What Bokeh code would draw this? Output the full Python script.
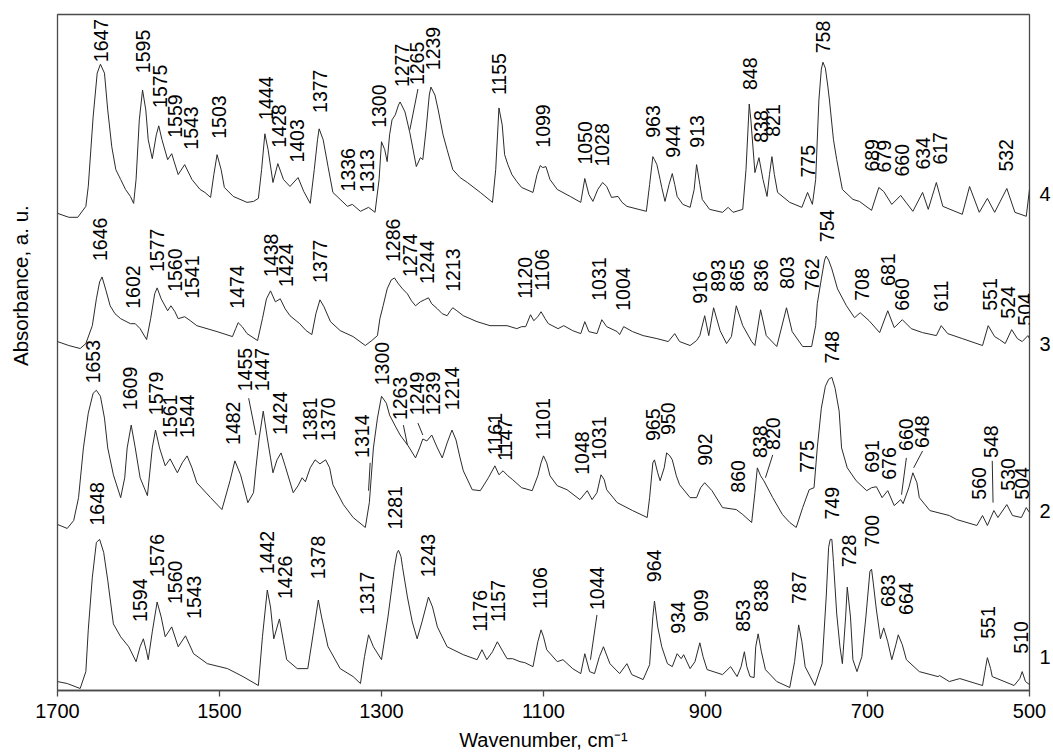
from math import pi
from bokeh.plotting import figure
from bokeh.layouts import row
from bokeh.models import Range1d, FixedTicker, ColumnDataSource, LinearAxis
from bokeh.core.properties import value
from bokeh.embed import file_html
from bokeh.resources import INLINE

# ---------------- data (wavenumber cm-1, absorbance a.u. incl. stacking offset) ----------------
spectrum_4 = [
    (1700, 4.80), (1686, 4.76), (1675, 4.76), (1665, 4.87), (1662, 5.07), (1656, 5.77), (1651, 6.21),
    (1647, 6.30), (1642, 6.21), (1638, 5.84), (1633, 5.47), (1628, 5.24), (1622, 5.14), (1616, 5.04),
    (1610, 4.97), (1606, 4.90), (1603, 5.14), (1599, 5.74), (1595, 6.04), (1591, 5.84), (1588, 5.54),
    (1583, 5.35), (1578, 5.59), (1575, 5.68), (1571, 5.54), (1564, 5.34), (1559, 5.40), (1556, 5.32),
    (1551, 5.19), (1543, 5.29), (1534, 5.14), (1524, 5.04), (1518, 5.01), (1511, 4.96), (1507, 5.19),
    (1503, 5.39), (1498, 5.24), (1494, 5.06), (1483, 4.97), (1466, 4.91), (1458, 4.92), (1452, 4.95),
    (1448, 5.24), (1444, 5.60), (1440, 5.44), (1434, 5.11), (1428, 5.30), (1421, 5.14), (1413, 5.07),
    (1403, 5.16), (1396, 5.02), (1388, 4.90), (1383, 5.24), (1379, 5.54), (1377, 5.65), (1372, 5.54),
    (1366, 5.27), (1360, 5.01), (1351, 4.94), (1342, 4.87), (1336, 4.89), (1326, 4.82), (1316, 4.86),
    (1308, 4.81), (1303, 5.14), (1300, 5.52), (1296, 5.44), (1293, 5.32), (1290, 5.59), (1287, 5.74),
    (1283, 5.79), (1279, 5.89), (1277, 5.92), (1271, 5.82), (1265, 5.61), (1257, 5.27), (1252, 5.36),
    (1249, 5.34), (1245, 5.64), (1241, 5.99), (1239, 6.07), (1234, 5.99), (1230, 5.84), (1224, 5.59),
    (1219, 5.44), (1212, 5.24), (1203, 5.16), (1194, 5.11), (1178, 5.01), (1163, 4.91), (1159, 5.24),
    (1155, 5.86), (1151, 5.69), (1148, 5.39), (1144, 5.29), (1139, 5.19), (1133, 5.12), (1127, 5.06),
    (1113, 5.01), (1108, 5.19), (1104, 5.28), (1101, 5.26), (1097, 5.27), (1092, 5.14), (1083, 5.04),
    (1067, 4.97), (1054, 4.91), (1049, 5.15), (1044, 4.99), (1039, 4.92), (1033, 5.04), (1027, 5.11),
    (1022, 5.07), (1016, 4.96), (1008, 4.97), (1003, 4.91), (997, 4.87), (973, 4.82), (969, 5.09),
    (965, 5.37), (963, 5.34), (960, 5.29), (956, 5.14), (954, 5.06), (950, 4.92), (945, 5.09),
    (941, 5.20), (938, 5.09), (935, 4.97), (928, 4.89), (919, 4.86), (914, 5.04), (911, 5.29),
    (907, 5.09), (904, 4.94), (895, 4.84), (879, 4.81), (872, 4.86), (866, 4.81), (854, 4.84),
    (850, 5.24), (846, 5.90), (844, 5.74), (839, 5.21), (834, 5.36), (829, 5.14), (824, 4.97),
    (821, 5.19), (818, 5.37), (815, 5.19), (811, 5.01), (796, 4.91), (781, 4.86), (774, 5.01),
    (768, 4.89), (764, 5.14), (760, 5.94), (757, 6.25), (755, 6.32), (752, 6.26), (749, 6.08),
    (747, 5.94), (742, 5.54), (738, 5.34), (731, 5.04), (718, 4.94), (710, 4.92), (695, 4.83),
    (686, 5.06), (680, 5.02), (670, 4.89), (659, 4.98), (644, 4.82), (632, 5.01), (625, 4.84),
    (615, 5.11), (607, 4.87), (583, 4.79), (574, 5.07), (562, 4.81), (552, 4.95), (543, 4.81),
    (528, 5.05), (518, 4.81), (504, 4.77), (500, 5.04),
]

spectrum_3 = [
    (1700, 3.51), (1686, 3.47), (1672, 3.44), (1665, 3.49), (1657, 3.67), (1652, 3.94), (1648, 4.11),
    (1645, 4.16), (1640, 4.02), (1635, 3.87), (1629, 3.79), (1622, 3.74), (1610, 3.69), (1604, 3.69),
    (1598, 3.64), (1590, 3.53), (1585, 3.74), (1580, 3.99), (1577, 4.05), (1572, 3.94), (1564, 3.82),
    (1560, 3.87), (1555, 3.81), (1551, 3.74), (1543, 3.76), (1536, 3.72), (1528, 3.67), (1503, 3.61),
    (1484, 3.56), (1480, 3.64), (1477, 3.70), (1472, 3.66), (1466, 3.59), (1453, 3.52), (1447, 3.74),
    (1442, 3.94), (1437, 4.02), (1431, 3.91), (1425, 3.94), (1419, 3.84), (1413, 3.77), (1401, 3.69),
    (1393, 3.62), (1386, 3.58), (1381, 3.79), (1376, 3.93), (1371, 3.86), (1363, 3.71), (1351, 3.62),
    (1335, 3.56), (1320, 3.47), (1312, 3.52), (1305, 3.57), (1302, 3.74), (1298, 3.87), (1293, 4.04),
    (1288, 4.13), (1284, 4.15), (1279, 4.09), (1274, 4.04), (1268, 3.99), (1263, 3.92), (1258, 3.87),
    (1252, 3.91), (1247, 3.93), (1242, 3.95), (1238, 3.89), (1231, 3.84), (1225, 3.79), (1219, 3.77),
    (1215, 3.82), (1212, 3.85), (1207, 3.82), (1199, 3.77), (1182, 3.71), (1166, 3.67), (1145, 3.67),
    (1133, 3.64), (1127, 3.66), (1122, 3.66), (1116, 3.78), (1112, 3.72), (1107, 3.76), (1103, 3.81),
    (1098, 3.74), (1094, 3.69), (1082, 3.64), (1075, 3.67), (1064, 3.62), (1054, 3.59), (1049, 3.71),
    (1044, 3.61), (1034, 3.59), (1028, 3.73), (1022, 3.66), (1009, 3.61), (1006, 3.58), (1001, 3.66),
    (990, 3.61), (977, 3.57), (960, 3.54), (946, 3.51), (938, 3.59), (932, 3.51), (919, 3.47),
    (911, 3.52), (907, 3.57), (901, 3.77), (896, 3.57), (890, 3.85), (882, 3.62), (874, 3.49),
    (868, 3.56), (862, 3.87), (854, 3.67), (843, 3.51), (839, 3.47), (832, 3.83), (825, 3.57),
    (812, 3.46), (800, 3.85), (793, 3.61), (780, 3.46), (769, 3.46), (764, 3.67), (762, 3.89),
    (757, 4.14), (753, 4.33), (751, 4.37), (748, 4.33), (744, 4.24), (737, 4.04), (726, 3.87),
    (716, 3.75), (709, 3.80), (698, 3.72), (685, 3.60), (675, 3.82), (667, 3.65), (657, 3.73),
    (646, 3.64), (632, 3.60), (615, 3.57), (609, 3.67), (601, 3.59), (583, 3.54), (558, 3.47),
    (551, 3.67), (543, 3.56), (537, 3.53), (530, 3.49), (522, 3.63), (515, 3.54), (509, 3.51),
    (502, 3.57), (500, 3.54),
]

spectrum_2 = [
    (1700, 1.67), (1688, 1.63), (1680, 1.71), (1674, 1.94), (1668, 2.44), (1662, 2.79), (1656, 2.99),
    (1652, 3.02), (1647, 2.96), (1642, 2.74), (1638, 2.44), (1631, 2.17), (1622, 1.94), (1617, 2.14),
    (1614, 2.44), (1609, 2.67), (1604, 2.44), (1598, 2.14), (1589, 1.96), (1583, 2.44), (1579, 2.62),
    (1574, 2.44), (1567, 2.26), (1561, 2.33), (1552, 2.19), (1546, 2.29), (1540, 2.36), (1534, 2.24),
    (1528, 2.09), (1511, 1.94), (1497, 1.82), (1487, 2.11), (1481, 2.31), (1474, 2.17), (1465, 1.89),
    (1458, 1.99), (1455, 2.24), (1451, 2.54), (1446, 2.81), (1441, 2.54), (1437, 2.34), (1434, 2.19),
    (1429, 2.32), (1424, 2.39), (1419, 2.26), (1409, 1.99), (1403, 2.06), (1398, 2.14), (1394, 2.10),
    (1388, 2.24), (1382, 2.32), (1376, 2.28), (1369, 2.32), (1364, 2.24), (1360, 2.07), (1347, 1.87),
    (1335, 1.74), (1320, 1.64), (1315, 1.89), (1310, 2.44), (1305, 2.74), (1300, 2.96), (1294, 2.89),
    (1290, 2.77), (1283, 2.66), (1277, 2.57), (1267, 2.46), (1258, 2.34), (1253, 2.44), (1249, 2.53),
    (1244, 2.51), (1238, 2.57), (1231, 2.44), (1225, 2.34), (1219, 2.49), (1213, 2.62), (1208, 2.52),
    (1203, 2.34), (1199, 2.21), (1188, 2.02), (1178, 2.01), (1168, 2.14), (1160, 2.26), (1155, 2.17),
    (1150, 2.21), (1144, 2.16), (1138, 2.12), (1127, 2.04), (1114, 2.01), (1107, 2.16), (1103, 2.29),
    (1100, 2.36), (1096, 2.29), (1092, 2.16), (1083, 2.06), (1071, 2.02), (1055, 1.92), (1046, 2.01),
    (1040, 1.92), (1034, 1.99), (1029, 2.17), (1025, 2.12), (1022, 2.02), (1009, 1.89), (990, 1.81),
    (972, 1.74), (969, 1.94), (965, 2.29), (963, 2.32), (959, 2.19), (956, 2.11), (951, 2.24),
    (948, 2.39), (944, 2.36), (941, 2.32), (936, 2.16), (932, 2.07), (919, 1.94), (911, 1.94),
    (906, 2.04), (901, 2.09), (892, 2.01), (879, 1.84), (862, 1.82), (854, 1.77), (843, 1.69),
    (839, 1.99), (836, 2.24), (832, 2.16), (828, 2.11), (817, 1.94), (805, 1.77), (796, 1.69),
    (788, 1.64), (780, 1.84), (772, 2.02), (766, 2.04), (762, 2.44), (757, 2.84), (752, 3.06),
    (748, 3.13), (744, 3.15), (740, 3.04), (735, 2.81), (732, 2.44), (725, 2.24), (714, 2.11),
    (701, 2.01), (695, 2.04), (689, 2.05), (682, 1.94), (675, 2.01), (667, 1.86), (659, 1.92),
    (656, 1.88), (649, 2.04), (644, 2.19), (639, 2.09), (636, 1.94), (623, 1.81), (599, 1.76),
    (590, 1.72), (565, 1.66), (558, 1.76), (552, 1.66), (544, 1.81), (539, 1.74), (528, 1.87),
    (521, 1.76), (510, 1.74), (504, 1.84), (500, 1.79),
]

spectrum_1 = [
    (1700, 0.09), (1688, 0.07), (1672, 0.02), (1665, 0.19), (1662, 0.61), (1657, 1.14), (1652, 1.49),
    (1648, 1.52), (1643, 1.39), (1638, 1.11), (1631, 0.67), (1622, 0.54), (1612, 0.44), (1603, 0.29),
    (1598, 0.44), (1594, 0.52), (1590, 0.39), (1588, 0.31), (1583, 0.59), (1577, 0.89), (1572, 0.74),
    (1567, 0.54), (1559, 0.64), (1551, 0.44), (1542, 0.55), (1532, 0.37), (1515, 0.27), (1490, 0.22),
    (1471, 0.14), (1452, 0.05), (1447, 0.54), (1441, 1.01), (1437, 0.84), (1433, 0.52), (1426, 0.72),
    (1421, 0.49), (1417, 0.31), (1404, 0.22), (1391, 0.22), (1383, 0.64), (1378, 0.91), (1374, 0.74),
    (1366, 0.44), (1351, 0.22), (1335, 0.14), (1326, 0.07), (1321, 0.34), (1316, 0.56), (1310, 0.44),
    (1300, 0.31), (1292, 0.74), (1284, 1.24), (1281, 1.38), (1279, 1.41), (1276, 1.35), (1274, 1.24),
    (1268, 0.94), (1262, 0.69), (1256, 0.52), (1250, 0.69), (1242, 0.94), (1237, 0.84), (1231, 0.64),
    (1219, 0.44), (1199, 0.36), (1182, 0.31), (1176, 0.41), (1170, 0.31), (1163, 0.39), (1157, 0.49),
    (1150, 0.39), (1145, 0.32), (1138, 0.32), (1129, 0.29), (1123, 0.28), (1113, 0.24), (1107, 0.49),
    (1103, 0.61), (1100, 0.54), (1096, 0.41), (1083, 0.29), (1076, 0.31), (1064, 0.22), (1054, 0.17),
    (1049, 0.37), (1043, 0.19), (1037, 0.17), (1031, 0.34), (1026, 0.44), (1018, 0.27), (1006, 0.17),
    (997, 0.27), (991, 0.16), (977, 0.11), (969, 0.26), (965, 0.74), (963, 0.90), (959, 0.64),
    (954, 0.44), (947, 0.27), (941, 0.24), (935, 0.37), (930, 0.32), (927, 0.36), (919, 0.22),
    (913, 0.29), (907, 0.48), (903, 0.34), (898, 0.21), (879, 0.16), (869, 0.24), (861, 0.14),
    (856, 0.24), (852, 0.39), (849, 0.24), (845, 0.14), (840, 0.13), (838, 0.44), (835, 0.57),
    (831, 0.39), (826, 0.21), (812, 0.09), (796, 0.03), (790, 0.29), (785, 0.66), (781, 0.49),
    (777, 0.24), (765, 0.05), (756, 0.27), (751, 0.94), (748, 1.44), (746, 1.52), (744, 1.52),
    (742, 1.29), (738, 0.77), (734, 0.44), (731, 0.27), (727, 0.74), (725, 1.04), (721, 0.74),
    (718, 0.31), (713, 0.19), (707, 0.34), (702, 0.74), (697, 1.20), (695, 1.22), (693, 1.09),
    (689, 0.81), (684, 0.52), (680, 0.63), (675, 0.49), (670, 0.31), (665, 0.46), (662, 0.56),
    (657, 0.46), (652, 0.31), (636, 0.19), (613, 0.14), (611, 0.15), (599, 0.09), (586, 0.12),
    (558, 0.05), (554, 0.24), (552, 0.33), (548, 0.22), (546, 0.14), (519, 0.05), (512, 0.12),
    (509, 0.19), (505, 0.09), (500, 0.06),
]

# peak labels: (text, wavenumber of label, absorbance at label foot)
peak_labels_4 = [
    ("1647", 1646, 6.32), ("1595", 1594, 6.21), ("1575", 1574, 5.86), ("1559", 1555, 5.56),
    ("1543", 1535, 5.44), ("1503", 1501, 5.55), ("1444", 1443, 5.74), ("1428", 1426, 5.46),
    ("1403", 1404, 5.31), ("1377", 1376, 5.81), ("1336", 1341, 5.02), ("1313", 1318, 5.01),
    ("1300", 1303, 5.66), ("1277", 1275, 6.07), ("1265", 1256, 6.09), ("1239", 1236, 6.24),
    ("1155", 1155, 5.99), ("1099", 1101, 5.46), ("1050", 1049, 5.29), ("1028", 1028, 5.27),
    ("963", 965, 5.56), ("944", 940, 5.36), ("913", 911, 5.46), ("848", 845, 6.04),
    ("838", 832, 5.51), ("821", 817, 5.57), ("775", 774, 5.16), ("758", 755, 6.41),
    ("689", 694, 5.22), ("679", 680, 5.21), ("660", 657, 5.17), ("634", 632, 5.24),
    ("617", 611, 5.29), ("532", 529, 5.22),
]
peak_labels_3 = [
    ("1646", 1647, 4.32), ("1602", 1607, 3.84), ("1577", 1577, 4.21), ("1560", 1555, 4.01),
    ("1541", 1534, 3.94), ("1474", 1478, 3.84), ("1438", 1437, 4.16), ("1424", 1418, 4.06),
    ("1377", 1376, 4.10), ("1286", 1286, 4.31), ("1274", 1265, 4.16), ("1244", 1244, 4.09),
    ("1213", 1212, 4.01), ("1120", 1123, 3.94), ("1106", 1102, 4.02), ("1031", 1032, 3.92),
    ("1004", 1002, 3.82), ("916", 907, 3.89), ("893", 885, 4.01), ("865", 861, 4.01),
    ("836", 831, 4.01), ("803", 800, 4.04), ("762", 769, 4.02), ("754", 750, 4.51),
    ("708", 707, 3.92), ("681", 675, 4.07), ("660", 657, 3.82), ("611", 609, 3.81),
    ("551", 549, 3.82), ("524", 527, 3.74), ("504", 506, 3.67),
]
peak_labels_2 = [
    ("1653", 1656, 3.09), ("1609", 1610, 2.82), ("1579", 1579, 2.77), ("1561", 1561, 2.54),
    ("1544", 1540, 2.54), ("1482", 1483, 2.47), ("1455", 1468, 3.01), ("1447", 1447, 3.01),
    ("1424", 1425, 2.57), ("1381", 1388, 2.51), ("1370", 1366, 2.51), ("1314", 1324, 2.34),
    ("1300", 1299, 3.07), ("1263", 1277, 2.72), ("1249", 1256, 2.77), ("1239", 1236, 2.77),
    ("1214", 1213, 2.82), ("1161", 1160, 2.37), ("1147", 1147, 2.31), ("1101", 1101, 2.52),
    ("1048", 1053, 2.17), ("1031", 1032, 2.32), ("965", 965, 2.51), ("950", 946, 2.57),
    ("902", 901, 2.26), ("860", 860, 1.99), ("838", 833, 2.34), ("820", 817, 2.42),
    ("775", 775, 2.19), ("748", 744, 3.29), ("691", 695, 2.19), ("676", 673, 2.12),
    ("660", 652, 2.41), ("648", 633, 2.44), ("560", 562, 1.92), ("548", 547, 2.34),
    ("530", 527, 2.01), ("504", 509, 1.92),
]
peak_labels_1 = [
    ("1648", 1651, 1.66), ("1594", 1598, 0.69), ("1576", 1577, 1.14), ("1560", 1555, 0.87),
    ("1543", 1532, 0.72), ("1442", 1441, 1.17), ("1426", 1419, 0.92), ("1378", 1378, 1.12),
    ("1317", 1318, 0.76), ("1281", 1283, 1.62), ("1243", 1243, 1.14), ("1176", 1178, 0.59),
    ("1157", 1156, 0.69), ("1106", 1104, 0.82), ("1044", 1034, 0.81), ("964", 963, 1.09),
    ("934", 934, 0.57), ("909", 905, 0.69), ("853", 854, 0.59), ("838", 831, 0.79),
    ("787", 785, 0.87), ("749", 744, 1.72), ("728", 723, 1.24), ("700", 695, 1.44),
    ("683", 675, 0.84), ("664", 652, 0.76), ("551", 551, 0.52), ("510", 510, 0.37),
]
# leader lines from a label to its band: (x0, y0, x1, y1)
leader_lines = [
    (1255, 6.05, 1265, 5.64),
    (1464, 2.94, 1455, 2.57), (1314, 2.29, 1316, 2.01), (1273, 2.67, 1268, 2.47),
    (1255, 2.69, 1249, 2.57), (817, 2.37, 826, 2.14), (652, 2.34, 658, 1.97),
    (632, 2.41, 643, 2.24), (546, 2.31, 545, 1.89),
    (1034, 0.76, 1042, 0.31),
]
trace_numbers = {4.99: "4", 3.49: "3", 1.81: "2", 0.34: "1"}
x_ticks = [1700, 1500, 1300, 1100, 900, 700, 500]
y_title = "Absorbance, a. u."
x_title = "Wavenumber, cm⁻¹"

FONT = "Liberation Sans"
AXIS_COLOR = "#4a4a4a"
LINE_COLOR = "#2b2b2b"

# ---------------- main plot ----------------
p = figure(width=1021, height=753, x_range=Range1d(1700, 500), y_range=Range1d(0, 6.8),
           output_backend="svg", toolbar_location=None,
           min_border_left=25, min_border_right=22, min_border_top=14, min_border_bottom=59)
p.background_fill_color = "white"
p.border_fill_color = "white"
p.outline_line_color = AXIS_COLOR
p.outline_line_width = 1.3
p.grid.visible = False
p.yaxis.visible = False

xa = p.xaxis[0]
xa.ticker = FixedTicker(ticks=x_ticks)
xa.minor_tick_line_color = None
xa.major_tick_out = 6
xa.major_tick_in = 0
xa.axis_line_color = AXIS_COLOR
xa.axis_line_width = 1.3
xa.major_tick_line_color = AXIS_COLOR
xa.major_tick_line_width = 1.3
xa.major_label_text_font = FONT
xa.major_label_text_font_size = "20px"
xa.major_label_text_color = "black"
xa.major_label_standoff = 7
xa.axis_label = x_title
xa.axis_label_text_font = FONT
xa.axis_label_text_font_size = "20px"
xa.axis_label_text_font_style = "normal"
xa.axis_label_text_color = "black"
xa.axis_label_standoff = 8

# trace numbers on the right side
ra = LinearAxis(ticker=FixedTicker(ticks=list(trace_numbers.keys())),
                major_label_overrides=trace_numbers)
ra.axis_line_color = None
ra.major_tick_line_color = None
ra.minor_tick_line_color = None
ra.major_tick_out = 0
ra.major_tick_in = 0
ra.major_label_standoff = 10
ra.major_label_text_font = FONT
ra.major_label_text_font_size = "20px"
ra.major_label_text_color = "black"
p.add_layout(ra, "right")

for spec in (spectrum_1, spectrum_2, spectrum_3, spectrum_4):
    src = ColumnDataSource(dict(x=[a for a, b in spec], y=[b for a, b in spec]))
    p.line("x", "y", source=src, line_color=LINE_COLOR, line_width=1)

for labels in (peak_labels_1, peak_labels_2, peak_labels_3, peak_labels_4):
    src = ColumnDataSource(dict(t=[a for a, b, c in labels], x=[b for a, b, c in labels],
                                y=[c for a, b, c in labels]))
    p.text("x", "y", text="t", source=src, angle=pi / 2, text_align="left", text_baseline="middle",
           text_font=value(FONT), text_font_size="19.5px", text_color="black")

p.segment(x0=[l[0] for l in leader_lines], y0=[l[1] for l in leader_lines],
          x1=[l[2] for l in leader_lines], y1=[l[3] for l in leader_lines],
          line_color=LINE_COLOR, line_width=1)

# ---------------- narrow left panel carrying the y-axis title ----------------
t = figure(width=32, height=753, x_range=Range1d(0, 32), y_range=Range1d(0, 753),
           output_backend="svg", toolbar_location=None, min_border=0)
t.axis.visible = False
t.grid.visible = False
t.outline_line_color = None
t.background_fill_color = "white"
t.border_fill_color = "white"
t.text(x=[20], y=[451], text=[y_title], angle=pi / 2, text_align="center", text_baseline="middle",
       text_font=value(FONT), text_font_size="20.5px", text_color="black")

layout = row(t, p, spacing=0)
open("out.html", "w").write(file_html(layout, INLINE))
